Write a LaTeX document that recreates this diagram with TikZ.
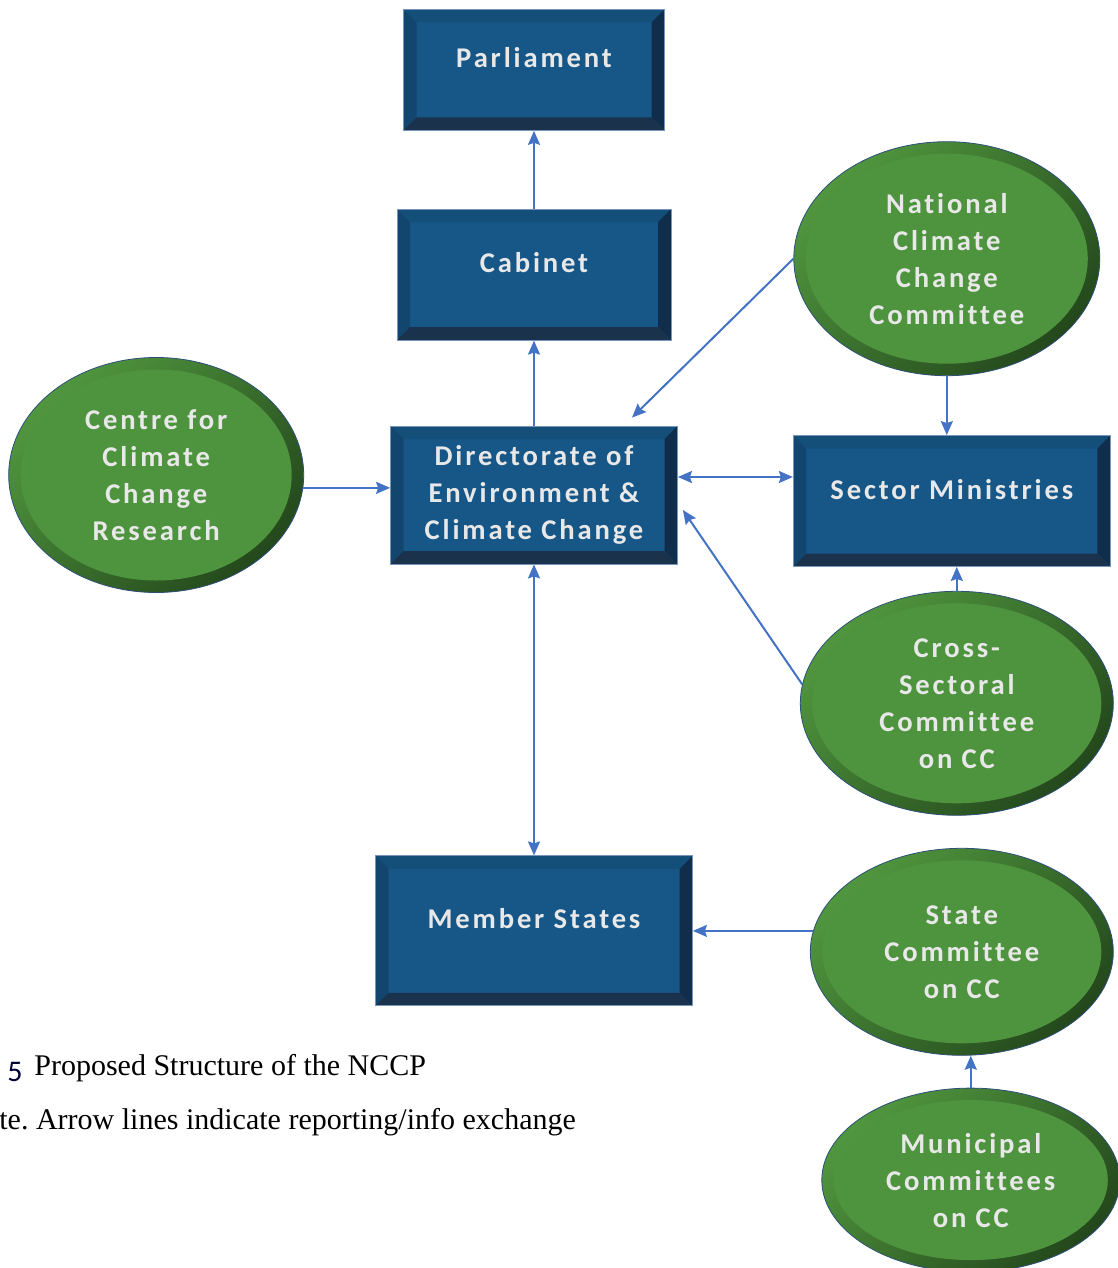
\documentclass[tikz,border=0pt]{standalone}
\usepackage{fontspec}
\setmainfont{Liberation Serif}
\newfontfamily\boxfont[LetterSpace=10, Ligatures={NoCommon,NoContextual}]{Carlito}
\usetikzlibrary{shapes.geometric, arrows.meta, positioning, calc}
\definecolor{boxface}{RGB}{22,87,136}
\definecolor{boxtop}{RGB}{20,79,122}
\definecolor{boxleft}{RGB}{19,70,110}
\definecolor{boxright}{RGB}{16,45,76}
\definecolor{boxbottom}{RGB}{26,50,76}
\definecolor{boxedge}{RGB}{120,150,185}
\definecolor{boxtext}{RGB}{232,232,232}
\definecolor{ovalface}{RGB}{78,148,62}
\definecolor{ovallight}{RGB}{80,150,62}
\definecolor{ovaldark}{RGB}{36,72,28}
\definecolor{ovaledge}{RGB}{45,80,120}
\definecolor{arrowblue}{RGB}{68,114,196}
\newcommand{\bev}{6.5pt}
\tikzstyle{bluebox} = [rectangle, draw=boxedge, line width=0.4pt, fill=boxface, text=boxtext, font=\boxfont\bfseries\fontsize{14.3}{18.5}\selectfont, align=center, inner sep=0pt, text height=9pt, text depth=11pt,
  path picture={
    \fill[boxtop] (path picture bounding box.north west) -- (path picture bounding box.north east) -- ([xshift=-\bev,yshift=-\bev]path picture bounding box.north east) -- ([xshift=\bev,yshift=-\bev]path picture bounding box.north west) -- cycle;
    \fill[boxleft] (path picture bounding box.north west) -- (path picture bounding box.south west) -- ([xshift=\bev,yshift=\bev]path picture bounding box.south west) -- ([xshift=\bev,yshift=-\bev]path picture bounding box.north west) -- cycle;
    \fill[boxright] (path picture bounding box.north east) -- (path picture bounding box.south east) -- ([xshift=-\bev,yshift=\bev]path picture bounding box.south east) -- ([xshift=-\bev,yshift=-\bev]path picture bounding box.north east) -- cycle;
    \fill[boxbottom] (path picture bounding box.south west) -- (path picture bounding box.south east) -- ([xshift=-\bev,yshift=\bev]path picture bounding box.south east) -- ([xshift=\bev,yshift=\bev]path picture bounding box.south west) -- cycle;
  }]
\tikzstyle{greenoval} = [ellipse, draw=ovaledge, line width=0.4pt, top color=ovallight, bottom color=ovaldark, shading angle=45, text=boxtext, font=\boxfont\bfseries\fontsize{14.3}{18.5}\selectfont, align=center, inner sep=0pt,
  path picture={
    \fill[ovalface] let \p1=($(path picture bounding box.north east)-(path picture bounding box.south west)$) in (path picture bounding box.center) ellipse ({0.5*\x1-6pt} and {0.5*\y1-6pt});
  }]
\tikzstyle{arrow} = [draw=arrowblue, line width=1pt, -{Stealth[length=7pt,width=6pt,inset=1pt]}]
\tikzstyle{arrow2} = [draw=arrowblue, line width=1pt, {Stealth[length=7pt,width=6pt,inset=1pt]}-{Stealth[length=7pt,width=6pt,inset=1pt]}]
\frenchspacing
\begin{document}
\begin{tikzpicture}[x=0.5pt, y=-0.5pt]
\useasboundingbox (0,0) rectangle (1118,1268);

% Directorate in the middle
\node (dir) [bluebox, minimum width=143.5pt, minimum height=69pt, text height=, text depth=] at (534,495) {Directorate of\\Environment \&\\Climate Change};

% Upper chain
\node (cabinet) [bluebox, minimum width=137pt, minimum height=65.5pt, above=42.5pt of dir] {Cabinet};
\node (parliament) [bluebox, minimum width=130.5pt, minimum height=60.5pt, above=39pt of cabinet] {Parliament};

% Left
\node (centre) [greenoval, minimum width=147.5pt, minimum height=117.5pt, left=43pt of dir, yshift=10pt] {Centre for\\Climate\\Change\\Research};

% Right column
\node (sector) [bluebox, minimum width=158.5pt, minimum height=65.5pt, right=57.5pt of dir, yshift=-3pt] {Sector Ministries};
\node (nccc) [greenoval, minimum width=153pt, minimum height=117pt, above=29.5pt of sector, xshift=-2.5pt] {National\\Climate\\Change\\Committee};
\node (cross) [greenoval, minimum width=156.5pt, minimum height=112pt, below=12pt of sector, xshift=2.5pt] {Cross-\\Sectoral\\Committee\\on CC};

% Lower part
\node (member) [bluebox, minimum width=158.5pt, minimum height=75pt, below=145.5pt of dir] {Member States};
\node (state) [greenoval, minimum width=151.5pt, minimum height=103.5pt, right=58.5pt of member, yshift=-10.5pt] {State\\Committee\\on CC};
\node (municipal) [greenoval, minimum width=149pt, minimum height=92pt, below=16pt of state, xshift=4.5pt] {Municipal\\Committees\\on CC};

% Caption
\node (fignum) [anchor=west, inner sep=0pt, text=black!80!blue, font=\boxfont\fontsize{15}{18}\selectfont] at (7,1072) {5};
\node (figtitle) [anchor=west, inner sep=0pt, font=\fontsize{15}{17}\selectfont] at (34,1068) {Proposed Structure of the NCCP};
\node (fignote) [anchor=west, inner sep=0pt, font=\fontsize{15}{17}\selectfont] at (-1,1122) {te. Arrow lines indicate reporting/info exchange};

% Arrows
\draw [arrow] (cabinet) -- (parliament);
\draw [arrow] (dir) -- (cabinet);
\draw [arrow] (nccc.west) -- ([xshift=49pt,yshift=4pt]dir.north);
\draw [arrow] (centre.-5) -- (centre.-5 -| dir.west);
\draw [arrow2] ([yshift=9pt]dir.east) -- ([yshift=9pt]dir.east -| sector.west);
\draw [arrow] (cross.173) -- ([xshift=2.5pt,yshift=-7.5pt]dir.east);
\draw [arrow] (nccc.south) -- (nccc.south |- sector.north);
\draw [arrow] (cross.north) -- (cross.north |- sector.south);
\draw [arrow2] (dir) -- (member);
\draw [arrow] (state.172) -- (state.172 -| member.east);
\draw [arrow] (municipal.north) -- (municipal.north |- state.south);

\end{tikzpicture}
\end{document}
